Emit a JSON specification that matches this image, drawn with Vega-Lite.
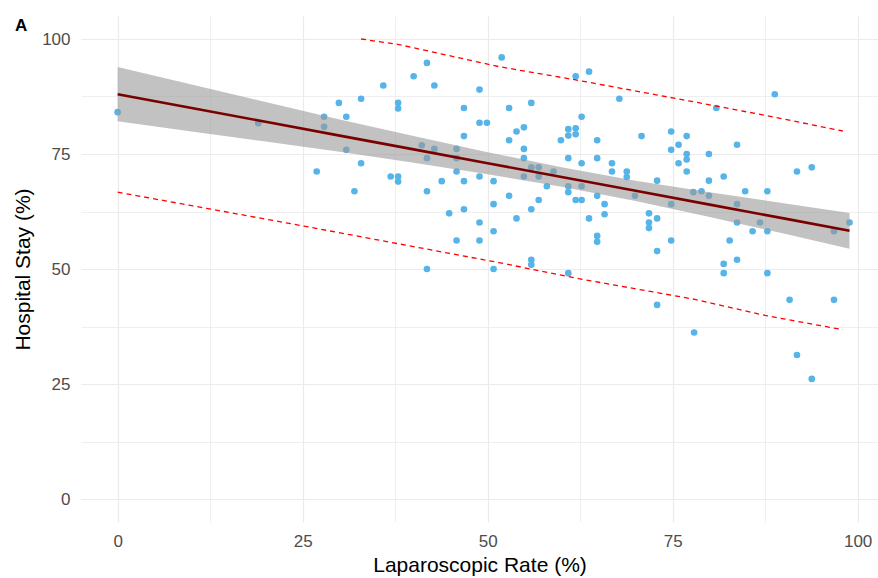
{
  "$schema": "https://vega.github.io/schema/vega-lite/v6.json",
  "width": 797,
  "height": 506,
  "autosize": {"type": "none"},
  "padding": {"left": 81, "top": 16, "right": 0, "bottom": 56},
  "background": "white",
  "title": {"text": "A", "anchor": "start", "frame": "group", "fontSize": 17, "fontWeight": "bold", "color": "black", "font": "Liberation Sans", "offset": 0, "dx": -66, "dy": 19},
  "config": {
    "view": {"stroke": null},
    "font": "Liberation Sans",
    "axis": {
      "domain": false,
      "ticks": false,
      "gridColor": "#EBEBEB",
      "gridWidth": {"condition": {"test": "datum.value % 25 === 0", "value": 1.2}, "value": 0.8},
      "labelColor": "#4D4D4D",
      "labelFontSize": 17,
      "labelFont": "Liberation Sans",
      "titleFont": "Liberation Sans",
      "titleFontSize": 21,
      "titleFontWeight": "normal",
      "titleColor": "black",
      "labelExpr": "datum.value % 25 === 0 ? datum.label : ''"
    }
  },
  "datasets": {
    "points": [
      {"rate": 0, "stay": 84.1}, {"rate": 19.0, "stay": 81.7}, {"rate": 41.8, "stay": 94.8}, {"rate": 40.0, "stay": 91.9},
      {"rate": 42.8, "stay": 89.9}, {"rate": 35.9, "stay": 89.9}, {"rate": 48.9, "stay": 89.0}, {"rate": 29.9, "stay": 86.1},
      {"rate": 32.9, "stay": 87.0}, {"rate": 37.9, "stay": 86.1}, {"rate": 37.9, "stay": 84.9}, {"rate": 46.8, "stay": 85.0},
      {"rate": 48.9, "stay": 81.8}, {"rate": 49.9, "stay": 81.8}, {"rate": 27.9, "stay": 83.1}, {"rate": 27.9, "stay": 80.9},
      {"rate": 30.9, "stay": 83.1}, {"rate": 46.8, "stay": 78.9}, {"rate": 41.1, "stay": 76.9}, {"rate": 42.8, "stay": 76.1},
      {"rate": 45.8, "stay": 76.1}, {"rate": 41.8, "stay": 74.1}, {"rate": 45.8, "stay": 74.1}, {"rate": 30.9, "stay": 75.9},
      {"rate": 26.9, "stay": 71.2}, {"rate": 32.9, "stay": 73.0}, {"rate": 36.9, "stay": 70.1}, {"rate": 37.9, "stay": 70.1},
      {"rate": 37.9, "stay": 69.0}, {"rate": 45.8, "stay": 71.2}, {"rate": 43.8, "stay": 69.1}, {"rate": 46.8, "stay": 69.1},
      {"rate": 48.9, "stay": 70.1}, {"rate": 50.8, "stay": 69.1}, {"rate": 32.0, "stay": 66.9}, {"rate": 41.8, "stay": 66.9},
      {"rate": 46.8, "stay": 63.0}, {"rate": 44.8, "stay": 62.1}, {"rate": 48.9, "stay": 60.1}, {"rate": 50.8, "stay": 64.1},
      {"rate": 50.8, "stay": 58.2}, {"rate": 45.8, "stay": 56.2}, {"rate": 48.9, "stay": 56.2}, {"rate": 41.8, "stay": 50.0},
      {"rate": 50.8, "stay": 50.0},
      {"rate": 51.9, "stay": 96.0}, {"rate": 63.7, "stay": 92.9}, {"rate": 61.9, "stay": 91.9}, {"rate": 67.8, "stay": 87.0},
      {"rate": 52.9, "stay": 85.0}, {"rate": 55.9, "stay": 86.1}, {"rate": 62.7, "stay": 83.1}, {"rate": 54.9, "stay": 80.8},
      {"rate": 53.9, "stay": 79.9}, {"rate": 52.9, "stay": 78.0}, {"rate": 60.9, "stay": 80.4}, {"rate": 60.9, "stay": 79.0},
      {"rate": 61.9, "stay": 80.6}, {"rate": 61.9, "stay": 79.3}, {"rate": 59.9, "stay": 78.0}, {"rate": 64.8, "stay": 78.0},
      {"rate": 70.8, "stay": 78.9}, {"rate": 74.8, "stay": 79.9}, {"rate": 76.9, "stay": 78.9}, {"rate": 75.8, "stay": 77.0},
      {"rate": 74.8, "stay": 75.9}, {"rate": 76.9, "stay": 75.0}, {"rate": 76.9, "stay": 73.8}, {"rate": 75.8, "stay": 73.0},
      {"rate": 76.9, "stay": 71.2}, {"rate": 54.9, "stay": 76.1}, {"rate": 54.9, "stay": 74.1}, {"rate": 60.9, "stay": 74.1},
      {"rate": 64.8, "stay": 74.1}, {"rate": 62.7, "stay": 73.0}, {"rate": 66.8, "stay": 73.0}, {"rate": 66.8, "stay": 71.2},
      {"rate": 68.8, "stay": 71.2}, {"rate": 68.8, "stay": 70.0}, {"rate": 55.9, "stay": 72.1}, {"rate": 56.9, "stay": 72.1},
      {"rate": 54.9, "stay": 70.1}, {"rate": 56.9, "stay": 70.1}, {"rate": 58.9, "stay": 71.2}, {"rate": 58.0, "stay": 68.0},
      {"rate": 60.9, "stay": 68.0}, {"rate": 60.9, "stay": 66.7}, {"rate": 62.7, "stay": 68.0}, {"rate": 52.9, "stay": 65.9},
      {"rate": 56.9, "stay": 65.0}, {"rate": 61.9, "stay": 65.0}, {"rate": 62.7, "stay": 65.0}, {"rate": 64.8, "stay": 65.9},
      {"rate": 65.8, "stay": 64.1}, {"rate": 65.8, "stay": 61.9}, {"rate": 55.9, "stay": 63.0}, {"rate": 53.9, "stay": 61.0},
      {"rate": 63.7, "stay": 61.0}, {"rate": 69.9, "stay": 65.9}, {"rate": 72.9, "stay": 69.2}, {"rate": 71.8, "stay": 62.1},
      {"rate": 72.9, "stay": 61.0}, {"rate": 71.8, "stay": 60.1}, {"rate": 71.8, "stay": 58.9}, {"rate": 74.8, "stay": 64.1},
      {"rate": 77.8, "stay": 66.7},
      {"rate": 64.8, "stay": 57.2}, {"rate": 64.8, "stay": 55.9}, {"rate": 72.9, "stay": 53.9}, {"rate": 74.8, "stay": 56.2},
      {"rate": 55.9, "stay": 52.0}, {"rate": 55.9, "stay": 50.9}, {"rate": 60.9, "stay": 49.1}, {"rate": 72.9, "stay": 42.2},
      {"rate": 77.9, "stay": 36.2},
      {"rate": 88.8, "stay": 88.0}, {"rate": 80.9, "stay": 85.0}, {"rate": 83.7, "stay": 77.0}, {"rate": 79.9, "stay": 75.0},
      {"rate": 81.9, "stay": 70.1}, {"rate": 79.9, "stay": 69.2}, {"rate": 91.8, "stay": 71.2}, {"rate": 93.8, "stay": 72.1},
      {"rate": 78.9, "stay": 66.9}, {"rate": 79.9, "stay": 65.9}, {"rate": 84.8, "stay": 66.9}, {"rate": 87.8, "stay": 66.9},
      {"rate": 83.7, "stay": 64.1}, {"rate": 83.7, "stay": 60.1}, {"rate": 86.8, "stay": 60.1}, {"rate": 98.9, "stay": 60.1},
      {"rate": 85.8, "stay": 58.2}, {"rate": 87.8, "stay": 58.2}, {"rate": 96.8, "stay": 58.2}, {"rate": 82.7, "stay": 56.2},
      {"rate": 81.9, "stay": 51.1}, {"rate": 81.9, "stay": 49.1}, {"rate": 83.7, "stay": 52.0}, {"rate": 87.8, "stay": 49.1},
      {"rate": 90.8, "stay": 43.3}, {"rate": 96.8, "stay": 43.3}, {"rate": 91.8, "stay": 31.3}, {"rate": 93.8, "stay": 26.1}
    ],
    "fit": [
      {"rate": 0, "fit": 88.0, "lo": 82.1, "hi": 93.9},
      {"rate": 10, "fit": 85.0, "lo": 79.9, "hi": 90.1},
      {"rate": 20, "fit": 82.0, "lo": 77.7, "hi": 86.3},
      {"rate": 30, "fit": 79.0, "lo": 75.5, "hi": 82.5},
      {"rate": 40, "fit": 76.0, "lo": 73.1, "hi": 78.9},
      {"rate": 50, "fit": 73.0, "lo": 70.6, "hi": 75.4},
      {"rate": 60, "fit": 70.0, "lo": 67.9, "hi": 72.1},
      {"rate": 70, "fit": 67.0, "lo": 64.8, "hi": 69.2},
      {"rate": 80, "fit": 64.0, "lo": 61.3, "hi": 66.7},
      {"rate": 90, "fit": 61.0, "lo": 57.7, "hi": 64.3},
      {"rate": 98.9, "fit": 58.3, "lo": 54.4, "hi": 62.2}
    ],
    "pi": [
      {"rate": 0, "value": 66.7, "bound": "lower"},
      {"rate": 24.6, "value": 59.5, "bound": "lower"},
      {"rate": 51.5, "value": 51.4, "bound": "lower"},
      {"rate": 62.3, "value": 47.9, "bound": "lower"},
      {"rate": 78, "value": 43.4, "bound": "lower"},
      {"rate": 87.5, "value": 39.9, "bound": "lower"},
      {"rate": 98, "value": 36.8, "bound": "lower"},
      {"rate": 32.9, "value": 100, "bound": "upper"},
      {"rate": 38, "value": 98.8, "bound": "upper"},
      {"rate": 51.5, "value": 94.0, "bound": "upper"},
      {"rate": 62.3, "value": 91.0, "bound": "upper"},
      {"rate": 78, "value": 86.3, "bound": "upper"},
      {"rate": 87.5, "value": 83.4, "bound": "upper"},
      {"rate": 98, "value": 80.0, "bound": "upper"}
    ]
  },
  "encoding": {
    "x": {"field": "rate", "type": "quantitative",
      "scale": {"domain": [-4.95, 102.75], "nice": false, "zero": false},
      "axis": {"title": "Laparoscopic Rate (%)", "values": [0, 12.5, 25, 37.5, 50, 62.5, 75, 87.5, 100], "labelPadding": 11, "titlePadding": 5}}
  },
  "layer": [
    {
      "data": {"name": "points"},
      "mark": {"type": "circle", "size": 44, "color": "#56B4E9", "opacity": 1},
      "encoding": {
        "y": {"field": "stay", "type": "quantitative",
          "scale": {"domain": [-5, 105], "nice": false, "zero": false},
          "axis": {"title": "Hospital Stay  (%)", "values": [0, 12.5, 25, 37.5, 50, 62.5, 75, 87.5, 100], "labelPadding": 11, "titlePadding": 8}}
      }
    },
    {
      "data": {"name": "fit"},
      "mark": {"type": "area", "color": "#999999", "opacity": 0.6},
      "encoding": {
        "y": {"field": "lo", "type": "quantitative"},
        "y2": {"field": "hi"}
      }
    },
    {
      "data": {"name": "fit"},
      "mark": {"type": "line", "color": "#7A0000", "strokeWidth": 2.6},
      "encoding": {
        "y": {"field": "fit", "type": "quantitative"}
      }
    },
    {
      "data": {"name": "pi"},
      "mark": {"type": "line", "color": "#FF0000", "strokeWidth": 1.3, "strokeDash": [5, 4]},
      "encoding": {
        "y": {"field": "value", "type": "quantitative"},
        "detail": {"field": "bound"}
      }
    }
  ]
}
